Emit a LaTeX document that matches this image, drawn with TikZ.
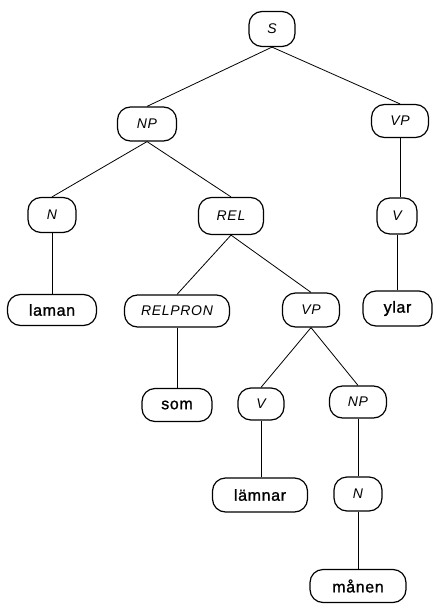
\documentclass[tikz,border=0pt]{standalone}
\usepackage{fontspec}
\setmainfont{Liberation Sans}
\newfontfamily\catfont[LetterSpace=5]{Liberation Sans}
\newfontfamily\wordfont[LetterSpace=4,FakeBold=1.2]{Liberation Sans}
\begin{document}
\begin{tikzpicture}[x=1pt,y=-1pt,
  tn/.style={draw, line width=1.2pt, rounded corners=13pt, inner sep=0pt, minimum height=33pt},
  cat/.style={tn, font=\catfont\fontsize{14}{14}\selectfont\itshape},
  word/.style={tn, font=\wordfont\fontsize{16}{16}\selectfont},
  edge/.style={line width=0.8pt}]
\useasboundingbox (0,0) rectangle (433,604);
\node[cat, minimum width=46pt, minimum height=35pt] (S) at (272,29) {S};
\node[cat, minimum width=59pt, minimum height=34pt] (NP1) at (147,124) {NP};
\node[cat, minimum width=57pt, minimum height=33pt] (VP1) at (400,121) {VP};
\node[cat, minimum width=48pt, minimum height=35pt] (N1) at (52,215) {N};
\node[cat, minimum width=65pt, minimum height=37pt] (REL) at (231,216) {REL};
\node[cat, minimum width=40pt, minimum height=36pt] (V1) at (397,216) {V};
\node[word, minimum width=89pt, minimum height=31pt] (laman) at (52,310) {laman};
\node[cat, minimum width=105pt, minimum height=32pt] (RELPRON) at (177,311) {RELPRON};
\node[cat, minimum width=57pt, minimum height=34pt] (VP2) at (311,310) {VP};
\node[word, minimum width=69pt, minimum height=35pt] (ylar) at (397.5,308.5) {ylar};
\node[word, minimum width=70pt, minimum height=33pt] (som) at (177,405) {som};
\node[cat, minimum width=46pt, minimum height=32pt] (V2) at (261,404) {V};
\node[cat, minimum width=57pt, minimum height=32pt] (NP2) at (358,402) {NP};
\node[word, minimum width=95pt, minimum height=34pt] (lamnar) at (260,495) {lämnar};
\node[cat, minimum width=48pt, minimum height=34pt] (N2) at (358,494) {N};
\node[word, minimum width=96pt, minimum height=33pt] (manen) at (358,586) {månen};
\draw[edge] (S.south) -- (NP1.north);
\draw[edge] (S.south) -- (VP1.north);
\draw[edge] (NP1.south) -- (N1.north);
\draw[edge] (NP1.south) -- (REL.north);
\draw[edge] (VP1.south) -- (V1.north -| VP1.south);
\draw[edge] (N1.south) -- (laman.north);
\draw[edge] (REL.south) -- (RELPRON.north);
\draw[edge] (REL.south) -- (VP2.north);
\draw[edge] (V1.south) -- (ylar.north -| V1.south);
\draw[edge] (RELPRON.south) -- (som.north);
\draw[edge] (VP2.south) -- (V2.north);
\draw[edge] (VP2.south) -- (NP2.north);
\draw[edge] (V2.south) -- (lamnar.north -| V2.south);
\draw[edge] (NP2.south) -- (N2.north);
\draw[edge] (N2.south) -- (manen.north -| N2.south);
\end{tikzpicture}
\end{document}
